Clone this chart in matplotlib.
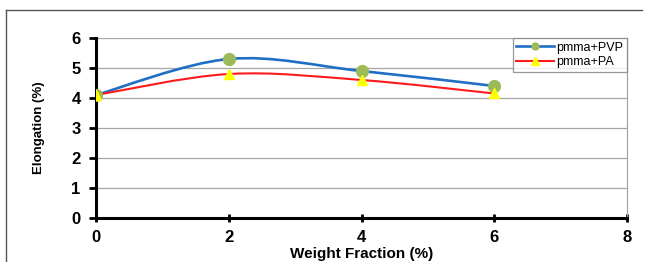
import matplotlib
matplotlib.use('Agg')
import matplotlib.pyplot as plt
from matplotlib.path import Path
from matplotlib.patches import PathPatch
from matplotlib.lines import Line2D

plt.rcParams['font.family'] = ['Liberation Sans', 'DejaVu Sans']

# data
weight = [0, 2, 4, 6]
pvp = [4.1, 5.3, 4.9, 4.4]
pa = [4.1, 4.8, 4.6, 4.15]
xticks = [0, 2, 4, 6, 8]
yticks = [0, 1, 2, 3, 4, 5, 6]


def smooth_path(xs, ys):
    # Excel-like smoothed line (Catmull-Rom as cubic Bezier)
    pts = list(zip(xs, ys))
    verts = [pts[0]]
    codes = [Path.MOVETO]
    n = len(pts)
    for i in range(n - 1):
        p0 = pts[i - 1] if i > 0 else pts[i]
        p1 = pts[i]
        p2 = pts[i + 1]
        p3 = pts[i + 2] if i + 2 < n else pts[i + 1]
        c1 = (p1[0] + (p2[0] - p0[0]) / 6, p1[1] + (p2[1] - p0[1]) / 6)
        c2 = (p2[0] - (p3[0] - p1[0]) / 6, p2[1] - (p3[1] - p1[1]) / 6)
        verts += [c1, c2, p2]
        codes += [Path.CURVE4] * 3
    return Path(verts, codes)


fig = plt.figure(figsize=(6.51, 2.62), dpi=100)
ax = fig.add_axes([96 / 651, 1 - 218 / 262, (627 - 96) / 651, 180 / 262])

blue = '#1f6fc4'
red = '#ff1a1a'
green = '#9bbb59'
yellow = '#ffff00'

ax.add_patch(PathPatch(smooth_path(weight, pvp), fill=False, edgecolor=blue,
                       lw=1.9, zorder=3, capstyle='round'))
ax.add_patch(PathPatch(smooth_path(weight, pa), fill=False, edgecolor=red,
                       lw=1.5, zorder=3, capstyle='round'))
ax.plot(weight, pvp, 'o', color=green, ms=8.5, mec=green, zorder=4)
ax.plot(weight, pa, '^', color=yellow, ms=6.5, mec=yellow, zorder=5)

ax.set_xlim(0, 8)
ax.set_ylim(0, 6)
ax.set_xticks(xticks)
ax.set_yticks(yticks)
ax.grid(axis='y', color='#a6a6a6', lw=0.9, zorder=0)
ax.set_axisbelow(True)

ax.spines['top'].set_visible(False)
ax.spines['right'].set_color('#a6a6a6')
ax.spines['right'].set_linewidth(0.9)
ax.spines['left'].set_linewidth(2.2)
ax.spines['bottom'].set_linewidth(2.2)
ax.tick_params(axis='y', direction='out', length=5, width=2, labelsize=12, pad=6)
ax.tick_params(axis='x', direction='inout', length=6, width=2, labelsize=12, pad=6)
for lab in ax.get_xticklabels() + ax.get_yticklabels():
    lab.set_fontweight('bold')

ax.set_xlabel('Weight Fraction (%)', fontsize=11, fontweight='bold', labelpad=1)
ax.set_ylabel('Elongation (%)', fontsize=9.5, fontweight='bold', labelpad=19)

handles = [
    Line2D([], [], color=blue, lw=1.9, marker='o', mfc=green, mec=green, ms=5),
    Line2D([], [], color=red, lw=1.5, marker='^', mfc=yellow, mec=yellow, ms=6),
]
leg = ax.legend(handles, ['pmma+PVP', 'pmma+PA'], loc='upper right',
                bbox_to_anchor=(1.0, 1.0), fontsize=9, frameon=True, fancybox=False,
                handlelength=3.0, handletextpad=0.2, borderpad=0.3, labelspacing=0.2,
                borderaxespad=0)
leg.get_frame().set_edgecolor('#808080')
leg.get_frame().set_linewidth(0.9)

# outer frame lines
fig.add_artist(Line2D([6 / 651, 642 / 651], [1 - 10 / 262, 1 - 10 / 262],
                      color='#555555', lw=1.0))
fig.add_artist(Line2D([6 / 651, 6 / 651], [0, 1 - 10 / 262],
                      color='#555555', lw=1.0))

plt.savefig('out.png', dpi=100)
